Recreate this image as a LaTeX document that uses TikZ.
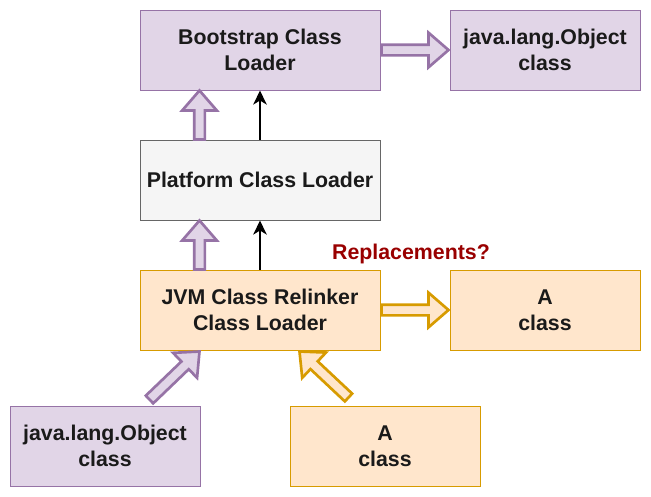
\documentclass[tikz,border=0pt]{standalone}
\usepackage{fontspec}
\setmainfont{Liberation Sans}
\usetikzlibrary{arrows.meta, positioning, calc}

\definecolor{purpfill}{HTML}{E1D5E7}
\definecolor{purpline}{HTML}{9673A6}
\definecolor{orfill}{HTML}{FFE6CC}
\definecolor{orline}{HTML}{D79B00}
\definecolor{grayfill}{HTML}{F5F5F5}
\definecolor{grayline}{HTML}{666666}
\definecolor{txtdark}{HTML}{1A1A1A}
\definecolor{replred}{HTML}{990000}

% fat arrow from #1 to #2, style #3
\newcommand{\fatarrow}[3]{%
    \coordinate (fh) at ($(#2)!15pt!(#1)$);
    \draw[#3] ($(#1)!4pt!90:(#2)$) -- ($(fh)!4pt!90:(#2)$) -- ($(fh)!13pt!90:(#2)$)
        -- (#2) -- ($(fh)!13pt!-90:(#2)$) -- ($(fh)!4pt!-90:(#2)$)
        -- ($(#1)!4pt!-90:(#2)$) -- cycle;
}

\begin{document}
\begin{tikzpicture}[x=0.75pt, y=-0.75pt,
    box/.style={draw, line width=0.75pt, minimum width=180pt, minimum height=60pt,
        inner sep=0pt, align=center, text=txtdark,
        font=\bfseries\fontsize{16}{19.5}\selectfont},
    purp/.style={box, fill=purpfill, draw=purpline},
    orng/.style={box, fill=orfill, draw=orline},
    gray/.style={box, fill=grayfill, draw=grayline},
    fatpurp/.style={fill=purpfill, draw=purpline, line width=2pt, line join=miter},
    fatorng/.style={fill=orfill, draw=orline, line width=2pt, line join=miter},
    thinarr/.style={-{Stealth[length=10.5pt, width=10pt, inset=3pt]}, line width=2.2pt}]
    \useasboundingbox (0,0) rectangle (651,497);

    % class loaders
    \node[purp] (boot) at (260,50) {Bootstrap Class\\Loader};
    \node[gray] (plat) at (260,180) {Platform Class Loader};
    \node[orng] (relink) at (260,310) {JVM Class Relinker\\Class Loader};

    % classes
    \node[purp, minimum width=142.5pt] (objtop) at (545,50) {java.lang.Object\\class};
    \node[orng, minimum width=142.5pt] (arepl) at (545,310) {A\\class};
    \node[purp, minimum width=142.5pt] (objlow) at (105,446) {java.lang.Object\\class};
    \node[orng, minimum width=142.5pt] (alow) at (385,446) {A\\class};

    \node[text=replred, font=\bfseries\fontsize{16}{19.5}\selectfont] (repl) at (411,254) {Replacements?};

    % delegation
    \coordinate (pn) at ($(plat.north west)+(60,0)$);
    \coordinate (bs) at ($(boot.south west)+(60,0)$);
    \coordinate (rn) at ($(relink.north west)+(60,0)$);
    \coordinate (ps) at ($(plat.south west)+(60,0)$);
    \fatarrow{pn}{bs}{fatpurp}
    \fatarrow{rn}{ps}{fatpurp}
    \draw[thinarr] (plat.north) -- (boot.south);
    \draw[thinarr] (relink.north) -- (plat.south);

    % loading
    \coordinate (be) at ($(boot.east)+(1,0)$);
    \coordinate (ow) at ($(objtop.west)+(-1,0)$);
    \coordinate (re) at ($(relink.east)+(1,0)$);
    \coordinate (aw) at ($(arepl.west)+(-1,0)$);
    \fatarrow{be}{ow}{fatpurp}
    \fatarrow{re}{aw}{fatorng}

    % incoming classes
    \coordinate (ot) at ($(objlow.north west)+(140,-6)$);
    \coordinate (rs1) at ($(relink.south west)+(60,1)$);
    \coordinate (at) at ($(alow.north west)+(59,-8)$);
    \coordinate (rs2) at ($(relink.south west)+(160,1)$);
    \fatarrow{ot}{rs1}{fatpurp}
    \fatarrow{at}{rs2}{fatorng}
\end{tikzpicture}
\end{document}
